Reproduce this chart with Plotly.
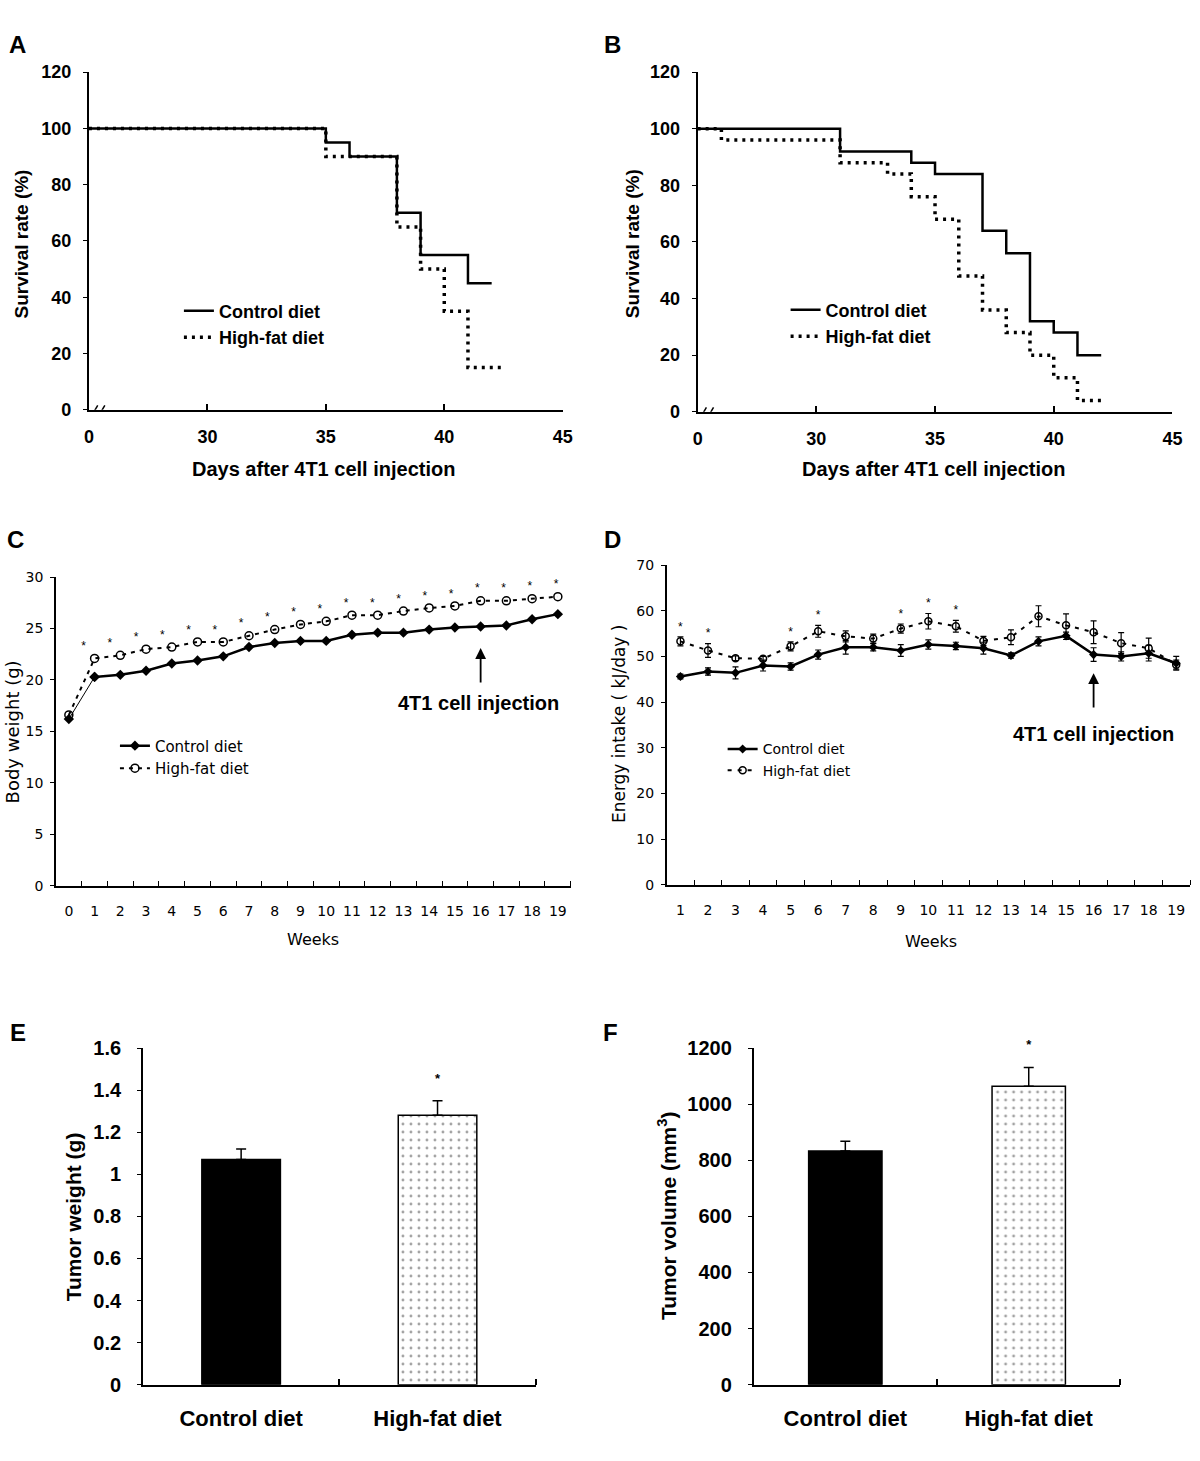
import plotly.graph_objects as go

# ------------------------------------------------------------------ data
# A / B : survival (%) vs days after 4T1 injection (axis broken between 0 and 30)
A_ctrl_days = [0, 35, 36, 38, 39, 41, 42]
A_ctrl_surv = [100, 95, 90, 70, 55, 45, 45]
A_hf_days = [0, 35, 38, 39, 40, 41, 42.4]
A_hf_surv = [100, 90, 65, 50, 35, 15, 15]

B_ctrl_days = [0, 31, 34, 35, 37, 38, 39, 40, 41, 42]
B_ctrl_surv = [100, 92, 88, 84, 64, 56, 32, 28, 20, 20]
B_hf_days = [0, 6, 31, 33, 34, 35, 36, 37, 38, 39, 40, 41, 42]
B_hf_surv = [100, 96, 88, 84, 76, 68, 48, 36, 28, 20, 12, 4, 4]

surv_tick_days = [0, 30, 35, 40, 45]
surv_y_ticks = [0, 20, 40, 60, 80, 100, 120]

# C : body weight (g) by week
C_weeks = list(range(0, 20))
C_ctrl = [16.2, 20.3, 20.5, 20.9, 21.6, 21.9, 22.3, 23.2, 23.6, 23.8,
          23.8, 24.4, 24.6, 24.6, 24.9, 25.1, 25.2, 25.3, 25.9, 26.4]
C_hf = [16.6, 22.1, 22.4, 23.0, 23.2, 23.7, 23.7, 24.3, 24.9, 25.4,
        25.7, 26.3, 26.3, 26.7, 27.0, 27.2, 27.7, 27.7, 27.9, 28.1]
C_sig_weeks = list(range(1, 20))

# D : energy intake (kJ/day) by week
D_weeks = list(range(1, 20))
D_ctrl = [45.6, 46.7, 46.4, 48.0, 47.8, 50.4, 52.0, 52.0, 51.3, 52.6,
          52.3, 51.8, 50.2, 53.3, 54.5, 50.4, 50.0, 50.7, 48.5]
D_ctrl_err = [0.5, 0.8, 1.3, 1.2, 0.8, 1.0, 1.5, 0.8, 1.3, 1.0,
              0.8, 1.3, 0.6, 1.0, 0.8, 1.5, 1.0, 1.7, 1.5]
D_hf = [53.3, 51.3, 49.6, 49.5, 52.2, 55.5, 54.4, 53.9, 56.1, 57.7,
        56.6, 53.4, 54.2, 58.8, 56.8, 55.3, 52.9, 51.8, 48.2]
D_hf_err = [1.0, 1.5, 0.5, 0.5, 1.0, 1.3, 1.2, 1.0, 1.0, 1.7,
            1.3, 1.0, 1.6, 2.3, 2.5, 2.5, 2.3, 2.2, 1.0]
D_sig_weeks = [1, 2, 5, 6, 9, 10, 11]

injection_week = 16

# E / F : tumour weight and volume
groups = ["Control diet", "High-fat diet"]
E_weight = [1.07, 1.28]
E_err = [0.05, 0.07]
F_volume = [833, 1064]
F_err = [35, 67]
sig_group = "High-fat diet"

# ------------------------------------------------------------------ helpers
W, H = 1200, 1461
FONT = "Liberation Sans"
FONT2 = "DejaVu Sans"
BLACK = "black"


def clamp(v):
    return min(1.0, max(0.0, v))


def px(x):
    # horizontal layout position (measured on the reference) -> paper fraction
    return clamp(((x - 4) / 0.988) / W)


def py(y):
    # vertical layout position (measured on the reference) -> paper fraction
    return clamp(1 - ((y - 11) / 0.983) / H)


def broken(d):
    # 0..30 compressed into 25..30 on the displayed axis
    return d if d >= 30 else 25 + d * 5 / 30


def bfont(size):
    return dict(family=FONT, size=size, color=BLACK, weight="bold")


def nfont(size):
    return dict(family=FONT2, size=size, color=BLACK)


fig = go.Figure()

# ------------------------------------------------------------------ A / B
for (cd, cs, hd, hs, xa, ya, lg) in [
    (A_ctrl_days, A_ctrl_surv, A_hf_days, A_hf_surv, "x", "y", "legend"),
    (B_ctrl_days, B_ctrl_surv, B_hf_days, B_hf_surv, "x2", "y2", "legend2"),
]:
    fig.add_trace(go.Scatter(
        x=[broken(d) for d in cd], y=cs, mode="lines", name="Control diet",
        line=dict(color=BLACK, width=2.5, shape="hv"),
        xaxis=xa, yaxis=ya, legend=lg))
    fig.add_trace(go.Scatter(
        x=[broken(d) for d in hd], y=hs, mode="lines", name="High-fat diet",
        line=dict(color=BLACK, width=3.5, shape="hv", dash="3px,5px"),
        xaxis=xa, yaxis=ya, legend=lg))

# ------------------------------------------------------------------ C
fig.add_trace(go.Scatter(
    x=C_weeks[:2], y=C_ctrl[:2], mode="lines+markers", showlegend=False,
    line=dict(color=BLACK, width=1),
    marker=dict(symbol="diamond", size=8, color=BLACK),
    xaxis="x3", yaxis="y3"))
fig.add_trace(go.Scatter(
    x=C_weeks[1:], y=C_ctrl[1:], mode="lines+markers", name="Control diet",
    line=dict(color=BLACK, width=2.5),
    marker=dict(symbol="diamond", size=8, color=BLACK),
    xaxis="x3", yaxis="y3", legend="legend3"))
fig.add_trace(go.Scatter(
    x=C_weeks, y=C_hf, mode="lines+markers", name="High-fat diet",
    line=dict(color=BLACK, width=2, dash="4px,5px"),
    marker=dict(symbol="circle-open", size=8, color=BLACK, line=dict(width=1.5)),
    xaxis="x3", yaxis="y3", legend="legend3"))
fig.add_trace(go.Scatter(
    x=[w - 0.45 + 0.02 * w for w in C_sig_weeks],
    y=[C_hf[C_weeks.index(w)] + 1.1 for w in C_sig_weeks],
    mode="text", text=["*"] * len(C_sig_weeks), showlegend=False,
    textfont=dict(family=FONT, size=12, color=BLACK), cliponaxis=False,
    xaxis="x3", yaxis="y3"))

# ------------------------------------------------------------------ D
fig.add_trace(go.Scatter(
    x=D_weeks, y=D_ctrl, mode="lines+markers", name="Control diet",
    line=dict(color=BLACK, width=2.5),
    marker=dict(symbol="diamond", size=7, color=BLACK),
    error_y=dict(type="data", array=D_ctrl_err, color=BLACK, thickness=1.2, width=3),
    xaxis="x4", yaxis="y4", legend="legend4"))
fig.add_trace(go.Scatter(
    x=D_weeks, y=D_hf, mode="lines+markers", name="High-fat diet",
    line=dict(color=BLACK, width=2, dash="4px,6px"),
    marker=dict(symbol="circle-open", size=7, color=BLACK, line=dict(width=1.5)),
    error_y=dict(type="data", array=D_hf_err, color=BLACK, thickness=1.2, width=3),
    xaxis="x4", yaxis="y4", legend="legend4"))
fig.add_trace(go.Scatter(
    x=D_sig_weeks,
    y=[D_hf[D_weeks.index(w)] + D_hf_err[D_weeks.index(w)] + 2.0 for w in D_sig_weeks],
    mode="text", text=["*"] * len(D_sig_weeks), showlegend=False,
    textfont=dict(family=FONT, size=12, color=BLACK), cliponaxis=False,
    xaxis="x4", yaxis="y4"))

# ------------------------------------------------------------------ E / F
for vals, errs, xa, ya, star_pad, star_pos in [
        (E_weight, E_err, "x5", "y5", 0.10, "middle center"),
        (F_volume, F_err, "x6", "y6", 54, "top center")]:
    fig.add_trace(go.Bar(
        x=groups, y=vals, width=0.4, showlegend=False,
        marker=dict(color=["black", "white"],
                    line=dict(color=BLACK, width=1.5),
                    pattern=dict(shape=["", "."], fgcolor=BLACK, bgcolor="white",
                                 size=8, solidity=0.1)),
        error_y=dict(type="data", array=errs, arrayminus=[0, 0], symmetric=False,
                     color=BLACK, thickness=1.5, width=5),
        xaxis=xa, yaxis=ya))
    i = groups.index(sig_group)
    fig.add_trace(go.Scatter(
        x=[sig_group], y=[vals[i] + errs[i] + star_pad], mode="text", text=["*"],
        textposition=star_pos, textfont=bfont(13), showlegend=False,
        cliponaxis=False, xaxis=xa, yaxis=ya))

# ------------------------------------------------------------------ axes
def ax(**kw):
    base = dict(showline=True, linecolor=BLACK, linewidth=1.5, showgrid=False,
                zeroline=False, tickcolor=BLACK, fixedrange=True)
    base.update(kw)
    return base


surv_tickvals = [broken(d) for d in surv_tick_days]
surv_ticktext = [str(d) for d in surv_tick_days]

layout = dict(
    width=W, height=H, margin=dict(l=0, r=0, t=0, b=0),
    paper_bgcolor="white", plot_bgcolor="white", showlegend=True,
    # A
    xaxis=ax(domain=[px(88), px(562)], range=[25, 45], anchor="y",
             tickvals=surv_tickvals, ticktext=surv_ticktext, ticks="inside",
             ticklen=6, linewidth=2, tickwidth=1.5, tickfont=bfont(18),
             ticklabelstandoff=10),
    yaxis=ax(domain=[py(409), py(72)], range=[0, 120], anchor="x",
             tickvals=surv_y_ticks, ticks="outside", ticklen=4, linewidth=2,
             tickfont=bfont(18), ticklabelstandoff=8),
    # B
    xaxis2=ax(domain=[px(697), px(1172)], range=[25, 45], anchor="y2",
              tickvals=surv_tickvals, ticktext=surv_ticktext, ticks="inside",
              ticklen=6, linewidth=2, tickwidth=1.5, tickfont=bfont(18),
              ticklabelstandoff=10),
    yaxis2=ax(domain=[py(411), py(72)], range=[0, 120], anchor="x2",
              tickvals=surv_y_ticks, ticks="outside", ticklen=4, linewidth=2,
              tickfont=bfont(18), ticklabelstandoff=8),
    # C
    xaxis3=ax(domain=[px(55), px(570)], range=[-0.5, 19.5], anchor="y3",
              tickvals=C_weeks, ticks="", tickfont=nfont(14), ticklabelstandoff=12,
              minor=dict(tick0=-0.5, dtick=1, ticks="inside", ticklen=5,
                         tickcolor=BLACK, tickwidth=1.2)),
    yaxis3=ax(domain=[py(884), py(576)], range=[0, 30], anchor="x3", dtick=5,
              ticks="outside", ticklen=4, tickfont=nfont(14), ticklabelstandoff=4),
    # D
    xaxis4=ax(domain=[px(666), px(1193)], range=[0.5, 19.5], anchor="y4",
              tickvals=D_weeks, ticks="", tickfont=nfont(14), ticklabelstandoff=12,
              minor=dict(tick0=0.5, dtick=1, ticks="inside", ticklen=5,
                         tickcolor=BLACK, tickwidth=1.2)),
    yaxis4=ax(domain=[py(883), py(564)], range=[0, 70], anchor="x4", dtick=10,
              ticks="outside", ticklen=4, tickfont=nfont(14), ticklabelstandoff=4),
    # E
    xaxis5=ax(domain=[px(142), px(535)], range=[-0.5, 1.5], anchor="y5",
              type="category", ticks="", tickfont=bfont(22), ticklabelstandoff=13,
              minor=dict(tickvals=[0.5, 1.5], ticks="inside", ticklen=6,
                         tickcolor=BLACK, tickwidth=1.5)),
    yaxis5=ax(domain=[py(1382), py(1046)], range=[0, 1.6], anchor="x5",
              tickvals=[0, 0.2, 0.4, 0.6, 0.8, 1.0, 1.2, 1.4, 1.6],
              ticktext=["0", "0.2", "0.4", "0.6", "0.8", "1", "1.2", "1.4", "1.6"],
              ticks="outside", ticklen=4, tickfont=bfont(20), ticklabelstandoff=12),
    # F
    xaxis6=ax(domain=[px(753), px(1120)], range=[-0.5, 1.5], anchor="y6",
              type="category", ticks="", tickfont=bfont(22), ticklabelstandoff=13,
              minor=dict(tickvals=[0.5, 1.5], ticks="inside", ticklen=6,
                         tickcolor=BLACK, tickwidth=1.5)),
    yaxis6=ax(domain=[py(1382), py(1046)], range=[0, 1200], anchor="x6", dtick=200,
              ticks="outside", ticklen=4, tickfont=bfont(20), ticklabelstandoff=12),
    # legends
    legend=dict(x=px(178), y=py(292), xanchor="left", yanchor="top",
                font=bfont(18), bgcolor="rgba(0,0,0,0)", itemwidth=30,
                tracegroupgap=0),
    legend2=dict(x=px(785), y=py(291), xanchor="left", yanchor="top",
                 font=bfont(18), bgcolor="rgba(0,0,0,0)", itemwidth=30,
                 tracegroupgap=0),
    legend3=dict(x=px(114), y=py(728), xanchor="left", yanchor="top",
                 font=nfont(15), bgcolor="rgba(0,0,0,0)", itemwidth=30,
                 tracegroupgap=0),
    legend4=dict(x=px(722), y=py(732), xanchor="left", yanchor="top",
                 font=nfont(14), bgcolor="rgba(0,0,0,0)", itemwidth=30,
                 tracegroupgap=0),
)
fig.update_layout(**layout)

# ------------------------------------------------------------------ annotations
ann = []
# panel letters
for letter, x, y in [("A", 17, 44), ("B", 612, 44), ("C", 15, 538),
                     ("D", 612, 538), ("E", 17, 1030), ("F", 610, 1030)]:
    ann.append(dict(text=letter, x=px(x), y=py(y), xref="paper", yref="paper",
                    showarrow=False, font=bfont(24), xanchor="center", yanchor="middle"))

# axis titles
titles = [
    ("Survival rate (%)", 20, 243, -90, bfont(19)),
    ("Days after 4T1 cell injection", 323, 468, 0, bfont(20)),
    ("Survival rate (%)", 632, 243, -90, bfont(19)),
    ("Days after 4T1 cell injection", 933, 468, 0, bfont(20)),
    ("Body weight (g)", 11, 730, -90, nfont(18)),
    ("Weeks", 312, 938, 0, nfont(16)),
    ("Energy intake ( kJ/day )", 619, 722, -90, nfont(17)),
    ("Weeks", 930, 940, 0, nfont(16)),
    ("Tumor weight (g)", 72, 1214, -90, bfont(21)),
    ("Tumor volume (mm<sup>3</sup>)", 667, 1214, -90, bfont(21)),
]
for text, x, y, ang, f in titles:
    ann.append(dict(text=text, x=px(x), y=py(y), xref="paper", yref="paper",
                    showarrow=False, font=f, textangle=ang,
                    xanchor="center", yanchor="middle"))

# injection arrows + labels
ann.append(dict(x=injection_week, y=23.1, ax=injection_week, ay=19.6,
                xref="x3", yref="y3", axref="x3", ayref="y3", showarrow=True,
                arrowhead=2, arrowsize=1.2, arrowwidth=1.8, arrowcolor=BLACK, text=""))
ann.append(dict(x=15.9, y=17.8, xref="x3", yref="y3", text="4T1 cell injection",
                showarrow=False, font=bfont(20)))
ann.append(dict(x=injection_week, y=46.3, ax=injection_week, ay=38.5,
                xref="x4", yref="y4", axref="x4", ayref="y4", showarrow=True,
                arrowhead=2, arrowsize=1.2, arrowwidth=1.8, arrowcolor=BLACK, text=""))
ann.append(dict(x=16.0, y=33.0, xref="x4", yref="y4", text="4T1 cell injection",
                showarrow=False, font=bfont(20)))
fig.update_layout(annotations=ann)

# axis breaks "//" on A and B
shapes = []
for xr, yr in [("x", "y"), ("x2", "y2")]:
    shapes.append(dict(type="line", xref=xr, yref=yr, x0=25.25, x1=25.6, y0=0, y1=0,
                       line=dict(color="white", width=5)))
    for x0 in (25.15, 25.45):
        shapes.append(dict(type="line", xref=xr, yref=yr, x0=x0, x1=x0 + 0.22,
                           y0=-1.6, y1=1.6, line=dict(color=BLACK, width=1.5)))
fig.update_layout(shapes=shapes)

fig.write_html("out.html",
               config={"displayModeBar": False},
               post_script="document.body.style.margin='0px';"
                           "document.body.style.overflow='hidden';")
